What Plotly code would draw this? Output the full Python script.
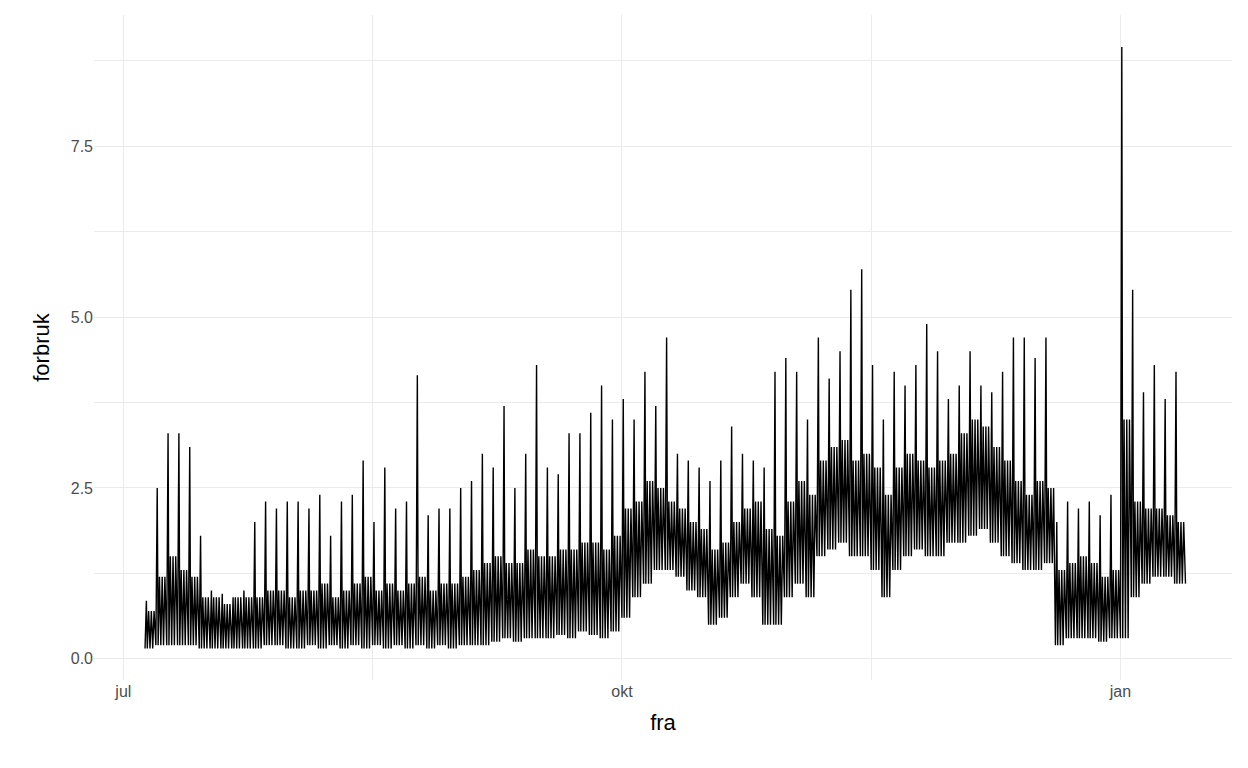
import datetime as dt
import plotly.graph_objs as go

# two-day bins starting 5 July: low, typical upper band, peak
start = dt.datetime(2023, 7, 5)
lo = [0.15, 0.2, 0.2, 0.2, 0.2, 0.15, 0.15, 0.15, 0.15, 0.15, 0.15, 0.2, 0.2, 0.15,
      0.15, 0.2, 0.15, 0.2, 0.15, 0.2, 0.15, 0.2, 0.15, 0.2, 0.15, 0.2, 0.15, 0.2, 0.15,
      0.2, 0.2, 0.2, 0.25, 0.3, 0.25, 0.3, 0.3, 0.3, 0.35, 0.3, 0.4, 0.35, 0.3, 0.4,
      0.6, 0.9, 1.1, 1.3, 1.3, 1.2, 1.0, 0.9, 0.5, 0.6, 0.9, 1.1, 0.9, 0.5, 0.5, 0.9,
      1.1, 0.9, 1.5, 1.6, 1.7, 1.5, 1.5, 1.3, 0.9, 1.3, 1.5, 1.6, 1.5, 1.5, 1.7,
      1.7, 1.8, 1.9, 1.7, 1.5, 1.4, 1.3, 1.3, 1.4, 0.2, 0.3, 0.3, 0.3, 0.25, 0.3,
      0.3, 0.9, 1.1, 1.2, 1.2, 1.1]
typ = [0.7, 1.2, 1.5, 1.3, 1.2, 0.9, 0.9, 0.8, 0.9, 0.9, 0.9, 1.0, 1.0, 0.9,
       1.0, 1.0, 1.1, 0.9, 1.0, 1.1, 1.2, 1.0, 1.1, 1.0, 1.1, 1.2, 1.0, 1.1, 1.1,
       1.2, 1.3, 1.4, 1.5, 1.4, 1.4, 1.6, 1.5, 1.5, 1.6, 1.6, 1.7, 1.7, 1.6, 1.8,
       2.2, 2.3, 2.6, 2.5, 2.3, 2.2, 2.0, 1.9, 1.6, 1.7, 2.0, 2.2, 2.3, 1.9, 1.8, 2.3,
       2.6, 2.4, 2.9, 3.1, 3.2, 2.9, 3.0, 2.8, 2.4, 2.8, 3.0, 2.9, 2.8, 2.9, 3.0,
       3.3, 3.5, 3.4, 3.1, 2.9, 2.6, 2.4, 2.6, 2.5, 1.3, 1.4, 1.5, 1.4, 1.2, 1.3,
       3.5, 2.3, 2.2, 2.2, 2.1, 2.0]
pk = [0.85, 2.5, 3.3, 3.3, 3.1, 1.8, 1.0, 0.95, 0.9, 1.0, 2.0, 2.3, 2.2, 2.3,
      2.3, 2.2, 2.4, 1.8, 2.3, 2.4, 2.9, 2.0, 2.8, 2.2, 2.3, 4.15, 2.1, 2.2, 2.2,
      2.5, 2.6, 3.0, 2.8, 3.7, 2.5, 3.0, 4.3, 2.8, 2.7, 3.3, 3.3, 3.6, 4.0, 3.5,
      3.8, 3.5, 4.2, 3.7, 4.7, 3.0, 2.9, 2.8, 2.6, 2.9, 3.4, 3.0, 2.9, 2.8, 4.2, 4.4,
      4.2, 3.5, 4.7, 4.1, 4.5, 5.4, 5.7, 4.3, 3.5, 4.2, 4.0, 4.3, 4.9, 4.5, 3.8,
      4.0, 4.5, 4.0, 3.9, 4.2, 4.7, 4.7, 4.4, 4.7, 2.0, 2.3, 2.2, 2.3, 2.1, 2.4,
      8.95, 5.4, 3.9, 4.3, 3.8, 4.2]

# spread each bin over its two days as a spiky hourly-like trace
offsets = [0, 6, 10, 16, 22, 28, 34, 40]
x, y = [], []
for i in range(len(lo)):
    t0 = start + dt.timedelta(days=2 * i)
    vals = [lo[i], pk[i], lo[i], typ[i], lo[i], typ[i], lo[i], typ[i]]
    for h, v in zip(offsets, vals):
        x.append(t0 + dt.timedelta(hours=h))
        y.append(v)
x.append(start + dt.timedelta(days=2 * len(lo)))
y.append(1.1)

fig = go.Figure(go.Scatter(x=x, y=y, mode='lines', line=dict(color='black', width=1.4)))

grid = '#ebebeb'
fig.update_layout(
    width=1248, height=768, plot_bgcolor='white', paper_bgcolor='white',
    margin=dict(l=86, r=24, t=7, b=96), showlegend=False,
    font=dict(family='Liberation Sans, Arial', color='#4d4d4d', size=16),
    xaxis=dict(
        title=dict(text='fra', font=dict(size=22, color='black')),
        range=['2023-06-25 14:00', '2024-01-21 14:00'],
        tickvals=['2023-07-01', '2023-10-01', '2024-01-01'], ticktext=['jul', 'okt', 'jan'],
        showgrid=True, gridcolor=grid, gridwidth=1.2, zeroline=False, showline=False, ticks='',
        minor=dict(tickvals=['2023-08-16', '2023-11-16'], showgrid=True, gridcolor=grid, gridwidth=0.6),
    ),
    yaxis=dict(
        title=dict(text='forbruk', font=dict(size=22, color='black')),
        range=[-0.31, 9.42], tickvals=[0, 2.5, 5, 7.5], ticktext=['0.0', '2.5', '5.0', '7.5'],
        showgrid=True, gridcolor=grid, gridwidth=1.2, zeroline=False, showline=False, ticks='',
        minor=dict(tickvals=[1.25, 3.75, 6.25, 8.75], showgrid=True, gridcolor=grid, gridwidth=0.6),
    ),
)

fig.write_html("out.html")
